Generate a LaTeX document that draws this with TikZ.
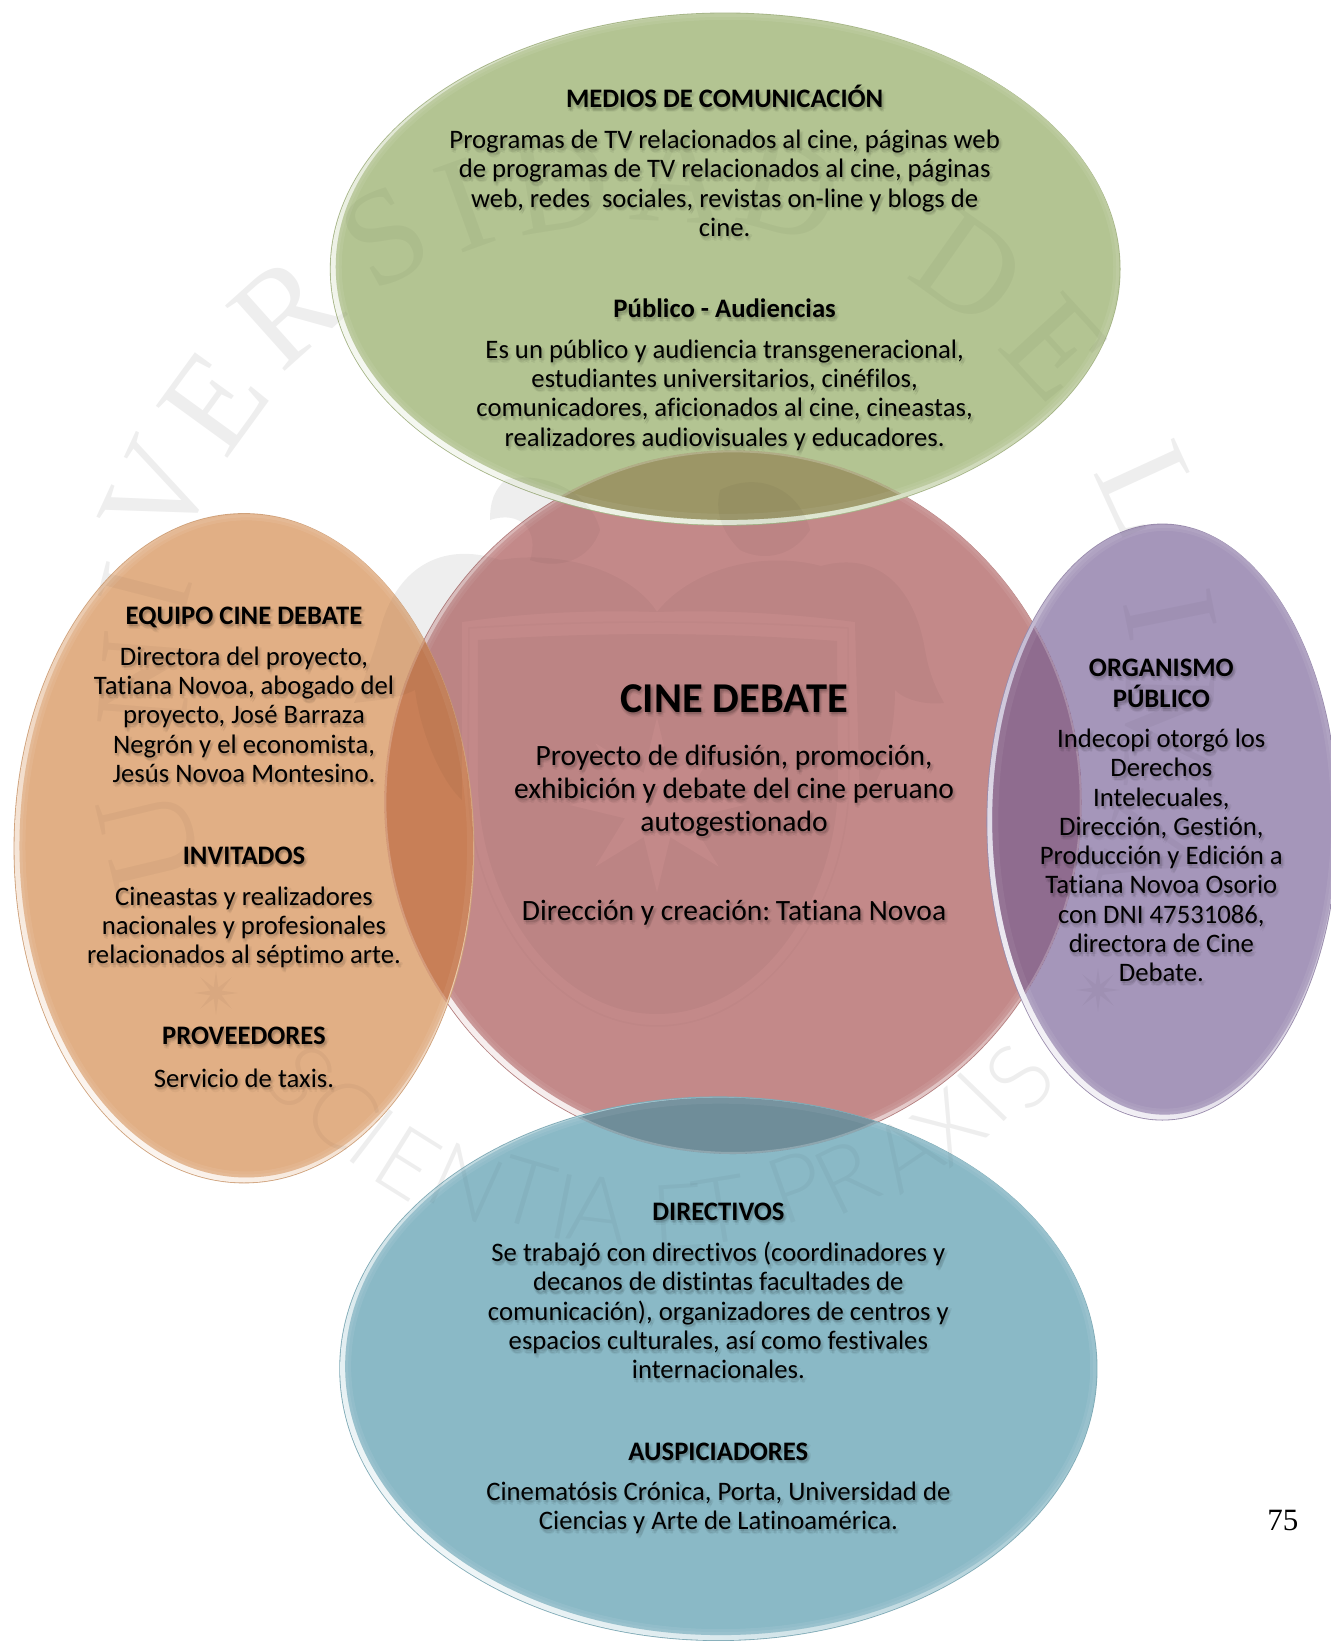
\documentclass[tikz,border=0pt]{standalone}
\usepackage{fontspec}
\setmainfont{Carlito}[Ligatures=NoCommon]
\newfontfamily\wmserif{Liberation Serif}
\newfontfamily\wmsans{Lato Light}
\newfontfamily\pgnum{Liberation Serif}
\definecolor{cgreen}{HTML}{B3C492}
\definecolor{cred}{HTML}{C38989}
\definecolor{corange}{HTML}{E1AF85}
\definecolor{cpurple}{HTML}{A596BA}
\definecolor{cblue}{HTML}{8AB9C6}
\definecolor{ogr}{HTML}{9C9666}
\definecolor{oor}{HTML}{C87F57}
\definecolor{opu}{HTML}{8F6C8F}
\definecolor{obl}{HTML}{6F8D99}
\newcommand{\bub}[5]{% cx cy rx ry colour
  \fill[#5!92!black] (#1,#2) ellipse [x radius=#3,y radius=#4];
  \shade[shading=axis,top color=#5,bottom color=white!86!#5,shading angle=-45]
    (#1,#2) ellipse [x radius=#3-0.8,y radius=#4-0.8];
  \begin{scope}
    \clip (#1+2.2,#2-2.2) ellipse [x radius=#3-3.4,y radius=#4-3.4];
    \fill[#5] (0,0) rectangle (1271,1568);
    \draw[white,opacity=.07,line width=12pt] (#1+2.2,#2-2.2) ellipse [x radius=#3-3.4,y radius=#4-3.4];
    \draw[white,opacity=.07,line width=6pt] (#1+2.2,#2-2.2) ellipse [x radius=#3-3.4,y radius=#4-3.4];
  \end{scope}
}
\newcommand{\ovl}[9]{% cx1 cy1 rx1 ry1 cx2 cy2 rx2 ry2 colour
  \begin{scope}
    \clip (#1,#2) ellipse [x radius=#3,y radius=#4];
    \clip (#5+2.2,#6-2.2) ellipse [x radius=#7-3.4,y radius=#8-3.4];
    \fill[#9] (0,0) rectangle (1271,1568);
    \draw[white,opacity=.06,line width=12pt] (#5+2.2,#6-2.2) ellipse [x radius=#7-3.4,y radius=#8-3.4];
    \draw[white,opacity=.22,line width=2pt] (#1,#2) ellipse [x radius=#3-1,y radius=#4-1];
  \end{scope}
}
\newcommand{\tx}[6]{% name x y xscale fontcmd lines
  \foreach \dx/\dy/\op in {2.4/3.4/.05,0.4/3.6/.05,3.6/1.6/.05,1.4/2.0/.07,2.0/4.6/.04,-0.6/1.8/.04}{
    \node[inner sep=0,text opacity=\op,text=black] at (#2+\dx,#3+2.6+\dy)
      {\scalebox{#4}[1]{#5\begin{tabular}{@{}c@{}}#6\end{tabular}}};
  }
  \node[inner sep=0,text=black] (#1) at (#2,#3+2.6)
      {\scalebox{#4}[1]{#5\begin{tabular}{@{}c@{}}#6\end{tabular}}};
}
\newcommand{\bodyf}{\fontsize{26.7}{29.3}\selectfont}
\newcommand{\headf}{\fontsize{26.7}{29.3}\selectfont\bfseries}
\def\wmop{.06}
\tikzset{
  wmtop/.style={inner sep=0,text=black,text opacity=\wmop,font=\wmserif\fontsize{135}{135}\selectfont},
  wmbot/.style={inner sep=0,text=black,text opacity=\wmop,font=\wmsans\fontsize{92}{92}\selectfont},
  wmfill/.style={fill=black,fill opacity=\wmop,draw=none}
}
\newcommand{\wmark}[2]{% name suffix, opacity
\def\wmop{#2}
\begin{scope}[x=1pt,y=-1pt]
  \foreach \ch/\px/\py [count=\i] in {U/150/840,N/145/680,I/145/590,V/158/493,E/214/402,R/286/312,S/385/237,I/465/205,D/560/185,A/680/178,D/790/190,D/970/269,E/1056/348,L/1150/491,I/1170/615,M/1170/730,A/1150/850}{
    \node[wmtop,rotate={atan2(720-\py,\px-651)-90}] (wmt#1\i) at (\px,\py) {\ch};
  }
  \foreach \ch/\px/\py [count=\i] in {S/300/1077,C/342/1113,I/372/1137,E/407/1163,N/467/1183,T/526/1193,I/564/1207,A/598/1210,E/678/1217,T/721/1210,P/797/1187,R/846/1177,A/906/1153,X/949/1127,I/982/1097,S/1020/1077}{
    \node[wmbot,rotate={atan((\px-650)/(\py-775))}] (wmb#1\i) at (\px,\py) {\ch};
  }
  \fill[wmfill,even odd rule]
    (478,640) .. controls (600,632) and (715,632) .. (837,641)
    -- (838,780) .. controls (838,900) and (760,1014) .. (657,1014)
    .. controls (555,1014) and (478,900) .. (478,780) -- cycle
    plot[samples at={0,22.5,...,337.5}] ({657+(61.5+26.5*cos(8*\x))*cos(\x+90)},{805-(61.5+26.5*cos(8*\x))*sin(\x+90)}) -- cycle;
  \draw[black,opacity=#2*.6,line width=1.5pt]
    (469,628) .. controls (595,620) and (720,620) .. (848,628)
    -- (849,780) .. controls (849,905) and (765,1026) .. (657,1026)
    .. controls (550,1026) and (468,905) .. (468,780) -- cycle;
  \fill[wmfill] (657,612) .. controls (630,570) and (560,550) .. (500,560)
    .. controls (440,540) and (395,570) .. (380,630)
    .. controls (372,660) and (360,690) .. (354,703)
    .. controls (375,700) and (395,700) .. (415,690)
    .. controls (420,730) and (440,780) .. (462,800)
    -- (462,622) .. controls (530,612) and (600,610) .. (657,612) -- cycle;
  \fill[wmfill] (657,612) .. controls (690,570) and (760,550) .. (821,566)
    .. controls (880,550) and (915,590) .. (925,650)
    .. controls (930,680) and (940,695) .. (944,703)
    .. controls (925,705) and (905,700) .. (895,690)
    .. controls (895,730) and (885,780) .. (860,803)
    -- (855,622) .. controls (780,612) and (710,610) .. (657,612) -- cycle;
  \fill[wmfill] (505,480) .. controls (540,470) and (590,490) .. (600,530)
    .. controls (590,560) and (560,570) .. (530,560)
    .. controls (540,530) and (520,510) .. (490,520)
    .. controls (490,500) and (495,490) .. (505,480) -- cycle;
  \fill[wmfill] (720,490) .. controls (760,470) and (800,490) .. (810,530)
    .. controls (790,560) and (760,560) .. (740,550)
    .. controls (720,530) and (715,510) .. (720,490) -- cycle;
  \fill[wmfill] plot[samples at={0,22.5,...,337.5}] ({216+(14+8*cos(8*\x))*cos(\x+90)},{993-(14+8*cos(8*\x))*sin(\x+90)}) -- cycle;
  \fill[wmfill] plot[samples at={0,22.5,...,337.5}] ({1098+(14+8*cos(8*\x))*cos(\x+90)},{990-(14+8*cos(8*\x))*sin(\x+90)}) -- cycle;
\end{scope}
}
\begin{document}
\begin{tikzpicture}[x=1.04721pt,y=-1.04721pt]
\useasboundingbox (0,0) rectangle (1271,1568);
\fill[white] (0,0) rectangle (1271,1568);
\wmark{u}{.065}
% bubbles
\bub{700}{766}{333}{336}{cred}
\bub{692.5}{257}{377.5}{245}{cgreen}
\bub{233}{810}{220}{320}{corange}
\bub{1110}{785}{168}{285}{cpurple}
\bub{686}{1307}{362}{260}{cblue}
% overlaps
\ovl{700}{766}{333}{336}{692.5}{257}{377.5}{245}{ogr}
\ovl{700}{766}{333}{336}{233}{810}{220}{320}{oor}
\ovl{700}{766}{333}{336}{1110}{785}{168}{285}{opu}
\ovl{700}{766}{333}{336}{686}{1307}{362}{260}{obl}
% faint watermark showing through the bubbles
\begin{scope}
  \clip (700,766) ellipse [x radius=333,y radius=336]
        (692.5,257) ellipse [x radius=377.5,y radius=245]
        (233,810) ellipse [x radius=220,y radius=320]
        (1110,785) ellipse [x radius=168,y radius=285]
        (686,1307) ellipse [x radius=362,y radius=260];
  \wmark{o}{.035}
\end{scope}
% texts: green
\tx{g1}{692}{94}{1}{\headf}{MEDIOS DE COMUNICACIÓN}
\tx{g2}{692}{175.5}{1}{\bodyf}{Programas de TV relacionados al cine, páginas web\\de programas de TV relacionados al cine, páginas\\web, redes\ \ sociales, revistas on-line y blogs de\\cine.}
\tx{g3}{692}{295}{1}{\headf}{Público - Audiencias}
\tx{g4}{692}{376}{1}{\bodyf}{Es un público y audiencia transgeneracional,\\estudiantes universitarios, cinéfilos,\\comunicadores, aficionados al cine, cineastas,\\realizadores audiovisuales y educadores.}
% orange
\tx{o1}{233}{588}{1}{\headf}{EQUIPO CINE DEBATE}
\tx{o2}{233}{683}{1}{\bodyf}{Directora del proyecto,\\Tatiana Novoa, abogado del\\proyecto, José Barraza\\Negrón y el economista,\\Jesús Novoa Montesino.}
\tx{o3}{233}{817}{1}{\headf}{INVITADOS}
\tx{o4}{233}{884}{1}{\bodyf}{Cineastas y realizadores\\nacionales y profesionales\\relacionados al séptimo arte.}
\tx{o5}{233}{989}{1}{\headf}{PROVEEDORES}
\tx{o6}{233}{1030}{1}{\bodyf}{Servicio de taxis.}
% red
\tx{r1}{701}{668}{1}{\fontsize{42.5}{50}\selectfont\bfseries}{CINE DEBATE}
\tx{r2}{701}{753.5}{1}{\fontsize{29.5}{33}\selectfont}{Proyecto de difusión, promoción,\\exhibición y debate del cine peruano\\autogestionado}
\tx{r3}{701}{870}{1}{\fontsize{29.5}{33}\selectfont}{Dirección y creación:\kern-1pt\ Tatiana Novoa}
% purple
\tx{p1}{1109}{652.5}{1}{\headf}{ORGANISMO\\PÚBLICO}
\tx{p2}{1109}{817.5}{1}{\bodyf}{Indecopi otorgó los\\Derechos\\Intelecuales,\\Dirección, Gestión,\\Producción y Edición a\\Tatiana Novoa Osorio\\con DNI 47531086,\\directora de Cine\\Debate.}
% blue
\tx{b1}{686}{1157}{1}{\headf}{DIRECTIVOS}
\tx{b2}{686}{1252.5}{1}{\bodyf}{Se trabajó con directivos (coordinadores y\\decanos de distintas facultades de\\comunicación), organizadores de centros y\\espacios culturales, así como festivales\\internacionales.}
\tx{b3}{686}{1386}{1}{\headf}{AUSPICIADORES}
\tx{b4}{686}{1438.5}{1}{\bodyf}{Cinematósis Crónica, Porta, Universidad de\\Ciencias y Arte de Latinoamérica.}
\node[inner sep=0,font=\pgnum\fontsize{31}{31}\selectfont] (pg) at (1225,1452) {75};
\end{tikzpicture}
\end{document}
